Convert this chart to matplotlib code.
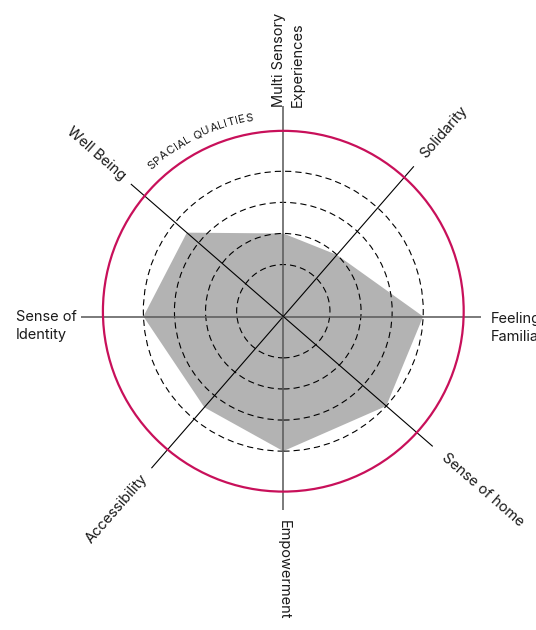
import numpy as np
import matplotlib
matplotlib.use("Agg")
import matplotlib.pyplot as plt
from matplotlib.patches import Circle
from matplotlib.font_manager import FontProperties

plt.rcParams['font.family'] = ['Inter', 'DejaVu Sans']
plt.rcParams['lines.scale_dashes'] = False

# ---- data -------------------------------------------------------------
categories = ["Multi Sensory\nExperiences", "Solidarity", "Feeling\nFamiliar",
              "Sense of home", "Empowerment", "Accessibility",
              "Sense of\nIdentity", "Well Being"]
scores = [2.5, 2.5, 4.5, 4.5, 4.5, 4.0, 4.5, 4.0]
axis_angles = [90, 49, 0, -41, -90, -131, 180, 139]   # degrees, counter-clockwise from east
ring_levels = [1.5, 2.5, 3.5, 4.5]
outer_level = 5.8
group_title = "SPACIAL QUALITIES"

# ---- layout -----------------------------------------------------------
W, H = 536, 630
PX = 31.1                      # pixels per score unit
ox_px, oy_px = 283.3, 316.5    # where the spokes cross
centre = np.array([0.0, 0.17])  # centre of the rings (score units)

fig = plt.figure(figsize=(W / 100, H / 100), dpi=100)
ax = fig.add_axes([0, 0, 1, 1])
ax.set_xlim(-ox_px / PX, (W - ox_px) / PX)
ax.set_ylim(-(H - oy_px) / PX, oy_px / PX)
ax.set_aspect('equal')
ax.axis('off')

PINK = '#c8105a'


def unit(deg):
    a = np.deg2rad(deg)
    return np.array([np.cos(a), np.sin(a)])


def point_on_spoke(deg, level):
    """Point on a spoke whose distance from the ring centre equals `level`."""
    u = unit(deg)
    d = -centre
    b = u @ d
    t = -b + np.sqrt(b * b - (d @ d - level ** 2))
    return t * u


# filled score polygon
verts = np.array([point_on_spoke(a, s) for a, s in zip(axis_angles, scores)])
ax.fill(verts[:, 0], verts[:, 1], color='#b3b3b3', lw=0, zorder=1)

# dashed reference rings
for lvl in ring_levels:
    ax.add_patch(Circle(centre, lvl, fill=False, ec='black', lw=0.8,
                        linestyle=(0, (4.5, 2.9)), zorder=2))

# spokes
spoke_len = {90: 211, 49: 199, 0: 198, -41: 198, -90: 193, -131: 201, 180: 202, 139: 202}
for a in axis_angles:
    end = unit(a) * spoke_len[a] / PX
    if a % 90 == 0:
        ax.plot([0, end[0]], [0, end[1]], color='#5c5c5c', lw=1.15, zorder=3,
                solid_capstyle='butt')
    else:
        ax.plot([0, end[0]], [0, end[1]], color='black', lw=0.8, zorder=3,
                solid_capstyle='butt')

# outer boundary
ax.add_patch(Circle(centre, outer_level, fill=False, ec=PINK, lw=1.6, zorder=4))

# ---- labels -----------------------------------------------------------
FS = 10.5
LINE_GAP = 18.4 / PX


def px(xp, yp):
    return ((xp - ox_px) / PX, (oy_px - yp) / PX)


def multiline(lines, anchor, rot):
    down = np.array([np.sin(np.deg2rad(rot)), -np.cos(np.deg2rad(rot))])
    for k, line in enumerate(lines):
        p = np.array(anchor) + down * LINE_GAP * k
        ax.text(p[0], p[1], line, rotation=rot, rotation_mode='anchor',
                ha='left', va='baseline', fontsize=FS, color='#1a1a1a')


multiline(categories[0].split('\n'), px(283.3, 107), 90)
multiline(categories[2].split('\n'), px(490.7, 322.5), 0)
multiline(categories[6].split('\n'), px(16, 321), 0)

spoke_labels = [
    (1, 49, 212, 'left'),
    (3, -41, 212, 'left'),
    (4, -90, 204, 'left'),
    (5, 49, 211, 'right'),
    (7, -41, 211, 'right'),
]
for idx, rot, dist, ha in spoke_labels:
    p = unit(axis_angles[idx]) * dist / PX
    ax.text(p[0], p[1], categories[idx], rotation=rot, rotation_mode='anchor',
            ha=ha, va='center', fontsize=FS, color='#1a1a1a')

# curved group title along the outer ring
fig.canvas.draw()
renderer = fig.canvas.get_renderer()
fp = FontProperties(family=['Inter', 'DejaVu Sans'], size=8.2)
tracking = 0.3  # extra pixels between letters
widths = [renderer.get_text_width_height_descent(group_title[:i], fp, ismath=False)[0]
          + tracking * i for i in range(len(group_title) + 1)]
total = widths[-1]
r_base = 193.0
mid_deg = 116.0
for i, ch in enumerate(group_title):
    s = (widths[i] + widths[i + 1]) / 2 - total / 2
    th = np.deg2rad(mid_deg) - s / r_base
    p = centre + (r_base / PX) * np.array([np.cos(th), np.sin(th)])
    ax.text(p[0], p[1], ch, rotation=np.rad2deg(th) - 90, rotation_mode='anchor',
            ha='center', va='baseline', fontproperties=fp, color='#1a1a1a')

fig.savefig('out.png', dpi=100)
